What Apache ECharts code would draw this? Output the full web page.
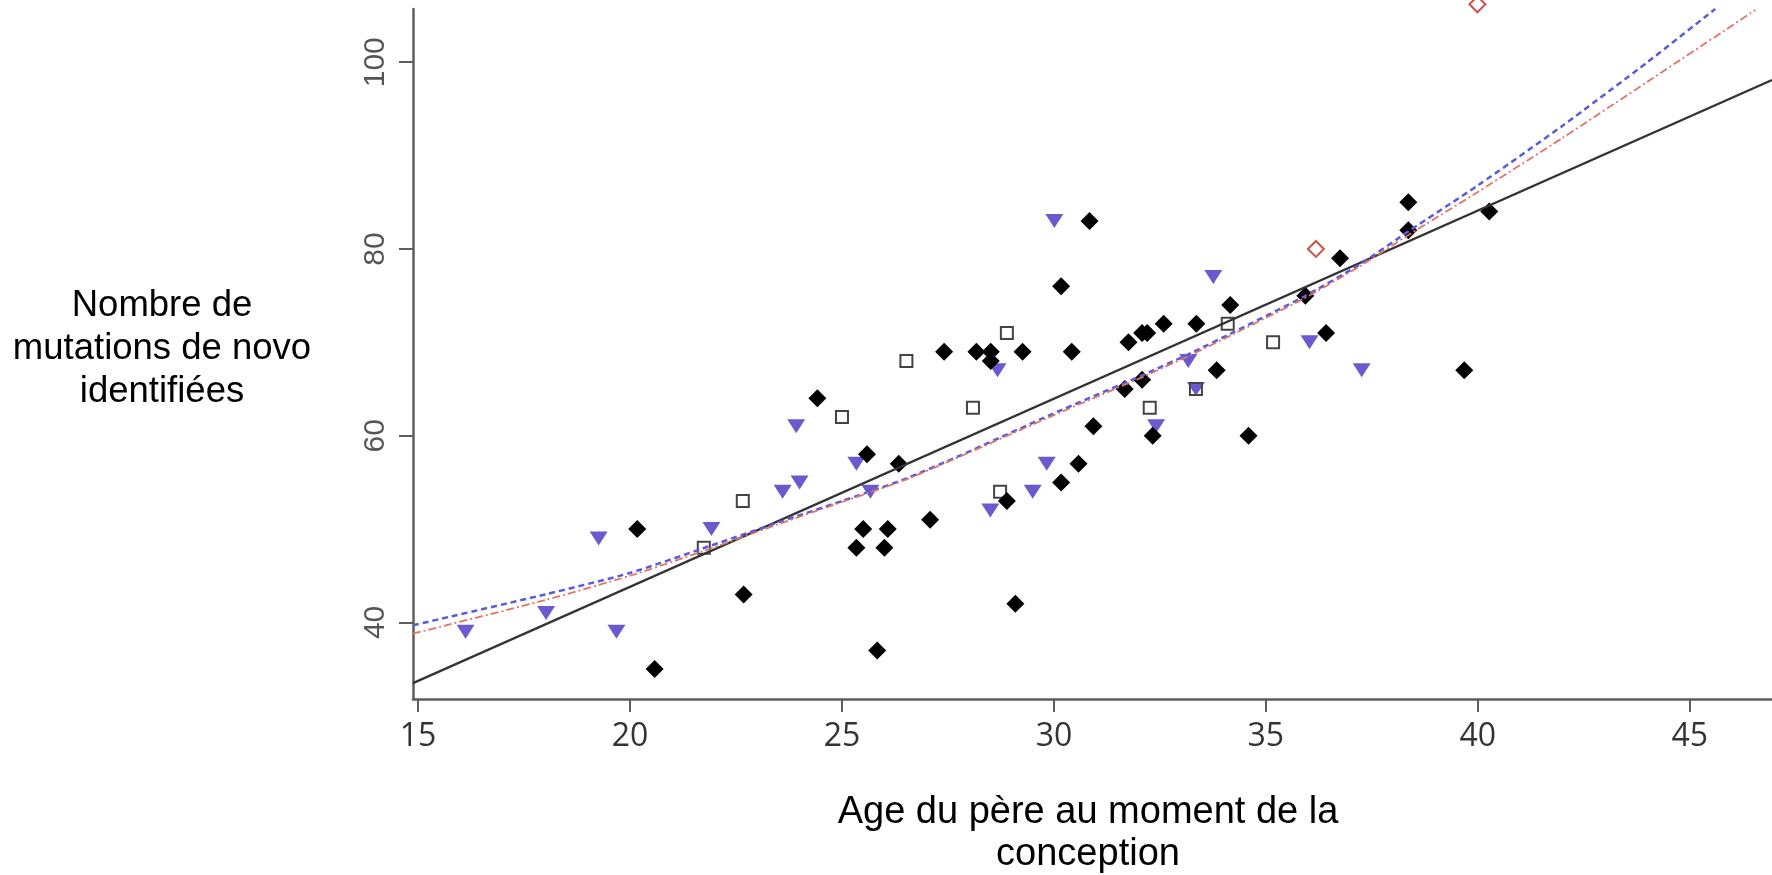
<!DOCTYPE html>
<html><head><meta charset="utf-8">
<script src="https://cdn.jsdelivr.net/npm/echarts@6/dist/echarts.min.js"></script>
<style>html,body{margin:0;padding:0;background:#fff}#c{width:1772px;height:875px}</style>
</head><body><div id="c"></div>
<script>
// ---- data ----
const xTicks = [15, 20, 25, 30, 35, 40, 45];
const yTicks = [40, 60, 80, 100];

// black filled diamonds [age, mutations]
const diamonds = [
  [20.17,50],[20.58,35],[22.68,43],[24.42,64],[25.59,58],[25.50,50],[25.34,48],[25.83,37],
  [26.08,50],[26.00,48],[27.08,51],[28.89,53],[29.09,42],[26.34,57],[27.41,69],[28.17,69],
  [28.51,69],[28.51,68],[29.26,69],[30.42,69],[30.17,55],[30.58,57],[30.93,61],[31.67,65],
  [32.08,66],[32.33,60],[33.84,67],[34.59,60],[36.42,71],[31.76,70],[32.08,71],[32.20,71],
  [30.84,83],[30.17,76],[32.59,72],[33.36,72],[34.16,74],[36.75,79],[35.93,75],[38.36,85],
  [38.36,82],[40.27,84],[39.68,67]
];
// blue downward triangles
const triangles = [
  [16.12,39],[18.02,41],[19.68,39],[19.26,49],[21.92,50],[23.60,54],[24.00,55],[23.92,61],
  [25.34,57],[25.67,54],[28.67,67],[28.50,52],[29.50,54],[29.83,57],[30.01,83],[32.41,61],
  [33.17,68],[33.35,65],[33.76,77],[36.03,70],[37.26,67]
];
// open squares
const squares = [
  [21.74,48],[22.66,53],[25.00,62],[26.52,68],[28.09,63],[28.89,71],[28.73,54],[32.26,63],
  [33.35,65],[34.10,72],[35.17,70]
];
// open red diamonds
const redDiamonds = [[36.18,80],[39.99,106.2]];

// fitted lines
const linearFit = [[14.88,33.5],[46.94,98.1]];
const blueCurve = [
  [14.88,39.7],[18.0,43.0],[20.0,45.3],[21.7,47.9],[23.55,50.8],[25.0,53.0],[26.45,55.3],
  [27.8,57.9],[30.0,62.4],[32.1,66.5],[33.3,69.0],[34.2,71.0],[35.9,74.9],[37.2,78.3],
  [38.4,82.0],[40.0,86.8],[42.0,93.2],[44.0,100.0],[45.6,105.7]
];
const redCurve = [
  [14.88,38.8],[18.0,42.4],[20.0,45.0],[21.7,47.6],[23.55,50.6],[25.0,52.9],[26.45,55.2],
  [27.8,57.8],[30.0,62.2],[32.1,66.3],[33.3,68.8],[34.2,70.8],[35.9,74.7],[37.2,78.1],
  [38.4,81.6],[40.0,86.1],[42.0,91.9],[44.0,97.9],[46.55,105.6]
];

const xTitle = 'Age du père au moment de la\nconception';
const yTitle = 'Nombre de\nmutations de novo\nidentifiées';

// ---- chart ----
const chart = echarts.init(document.getElementById('c'), null, {renderer: 'canvas'});
const axisGray = '#5e5e5e';
chart.setOption({
  animation: false,
  backgroundColor: '#ffffff',
  grid: {left: 413, top: 9, right: 0, bottom: 176, containLabel: false},
  xAxis: {
    type: 'value', min: 14.88, max: 46.94,
    axisLine: {show: true, onZero: false, lineStyle: {color: axisGray, width: 2.5}},
    axisTick: {show: true, inside: false, length: 13, customValues: xTicks, lineStyle: {color: axisGray, width: 2}},
    axisLabel: {show: true, customValues: xTicks, margin: 22, fontSize: 32, fontFamily: 'Open Sans', color: '#333'},
    splitLine: {show: false}
  },
  yAxis: {
    type: 'value', min: 31.8, max: 105.7,
    axisLine: {show: true, onZero: false, lineStyle: {color: axisGray, width: 2.5}},
    axisTick: {show: true, inside: false, length: 14, customValues: yTicks, lineStyle: {color: axisGray, width: 2}},
    axisLabel: {show: true, customValues: yTicks, rotate: 90, margin: 22, fontSize: 30, fontFamily: 'Liberation Sans', color: '#555'},
    splitLine: {show: false}
  },
  graphic: [
    {type: 'text', x: 162, y: 349, style: {text: yTitle, font: '36.5px "Liberation Sans"', fill: '#000', textAlign: 'center', textVerticalAlign: 'middle', lineHeight: 43}},
    {type: 'text', x: 1088, y: 834, style: {text: xTitle, font: '38px "Liberation Sans"', fill: '#000', textAlign: 'center', textVerticalAlign: 'middle', lineHeight: 42}}
  ],
  series: [
    {type: 'scatter', name: 'triangles', data: triangles, symbol: 'triangle', symbolRotate: 180, symbolSize: [18, 14],
     itemStyle: {color: '#6a5acd', opacity: 1}, z: 2},
    {type: 'scatter', name: 'squares', data: squares, symbol: 'rect', symbolSize: 12,
     itemStyle: {color: 'rgba(0,0,0,0)', borderColor: '#444', borderWidth: 2, opacity: 1}, z: 3},
    {type: 'scatter', name: 'diamonds', data: diamonds, symbol: 'diamond', symbolSize: [18, 18],
     itemStyle: {color: '#000', opacity: 1}, z: 3},
    {type: 'scatter', name: 'red', data: redDiamonds, symbol: 'diamond', symbolSize: [16, 16], clip: false,
     itemStyle: {color: 'rgba(0,0,0,0)', borderColor: '#c9544a', borderWidth: 2, opacity: 1}, z: 3},
    {type: 'line', name: 'linear', data: linearFit, symbol: 'none', lineStyle: {color: '#333', width: 2.2, type: 'solid'}, z: 4},
    {type: 'line', name: 'blue', data: blueCurve, symbol: 'none', smooth: 0.2,
     lineStyle: {color: '#5a5adc', width: 2.5, type: [6, 4]}, z: 4},
    {type: 'line', name: 'redfit', data: redCurve, symbol: 'none', smooth: 0.2,
     lineStyle: {color: '#e07468', width: 1.8, type: [8, 3, 2, 3]}, z: 4}
  ]
});
</script>
</body></html>
